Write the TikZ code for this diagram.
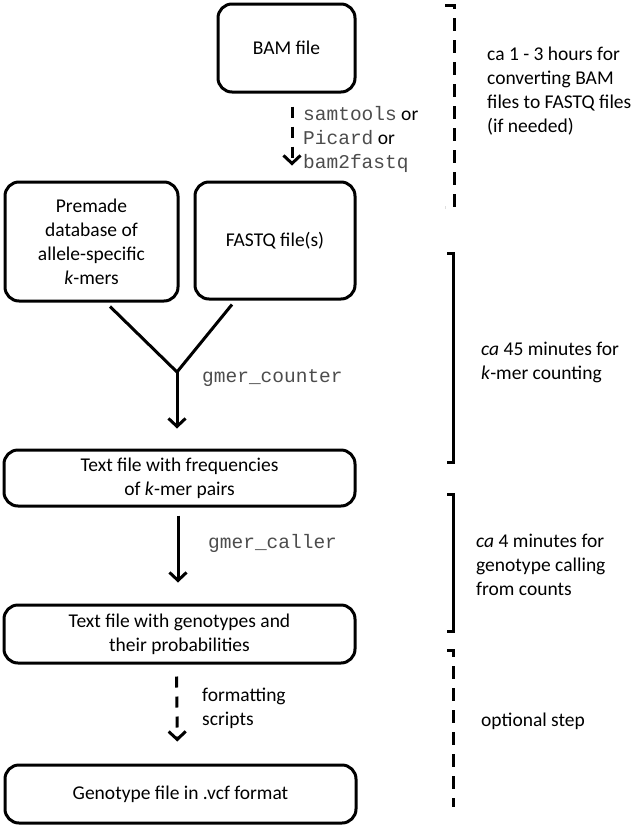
\documentclass[tikz,border=0pt]{standalone}
\usepackage{fontspec}
\setmainfont{Carlito}
\setmonofont{Liberation Mono}
\usetikzlibrary{arrows.meta}

\newcommand{\toolname}[1]{\textcolor{black!70}{\texttt{#1}}}

\begin{document}
\begin{tikzpicture}[x=1pt,y=-1pt]
        \tikzstyle{every node}=[inner sep=0pt, font=\fontsize{19.5pt}{24pt}\selectfont, text=black]
        \tikzstyle{box}=[draw=black, line width=3pt, rounded corners=14pt, align=center]
        \tikzstyle{note}=[anchor=west, align=left]
        \tikzstyle{edge}=[black, line width=3pt, -{Straight Barb[length=8pt,width=17pt]}]
        \tikzstyle{span}=[black, line width=3pt]
        \tikzstyle{broken}=[dash pattern=on 11pt off 9pt]

        \useasboundingbox (0,0) rectangle (640,828);

        \node[box, minimum width=137pt, minimum height=88pt]  (bam)   at (286.5,48)  {BAM file};
        \node[box, minimum width=173pt, minimum height=119pt] (db)    at (91.5,241.5) {Premade\\ database of\\ allele-specific\\ \textit{k}-mers};
        \node[box, minimum width=160pt, minimum height=117pt] (fastq) at (275,240.5) {FASTQ file(s)};
        \node[box, minimum width=351pt, minimum height=56pt]  (freq)  at (179.5,478) {Text file with frequencies\\ of \textit{k}-mer pairs};
        \node[box, minimum width=351pt, minimum height=58pt]  (geno)  at (179.5,634) {Text file with genotypes and\\ their probabilities};
        \node[box, minimum width=351pt, minimum height=58pt]  (vcf)   at (180.5,794) {Genotype file in .vcf format};

        \node[note] (tools) at (303,139) {\toolname{samtools} or\\ \toolname{Picard} or\\ \toolname{bam2fastq}};
        \node[note] (count) at (202,378) {\toolname{gmer\_counter}};
        \node[note] (call)  at (208,543) {\toolname{gmer\_caller}};
        \node[note] (fmt)   at (202,708) {formatting\\ scripts};

        \node[note] (time1) at (487,91)  {ca 1 - 3 hours for\\ converting BAM\\ files to FASTQ files\\ (if needed)};
        \node[note] (time2) at (481,362) {\textit{ca} 45 minutes for\\ \textit{k}-mer counting};
        \node[note] (time3) at (476,565) {\textit{ca} 4 minutes for\\ genotype calling\\ from counts};
        \node[note] (time4) at (481,721) {optional step};

        \coordinate (merge) at (177,372);

        \draw[edge, broken, shorten <=13pt, shorten >=15pt] ([xshift=5.5pt]bam.south) -- ([xshift=17pt]fastq.north);
        \draw[span] ([xshift=18.5pt,yshift=-4pt]db.south) -- (merge) -- ([xshift=-43pt,yshift=-4pt]fastq.south);
        \draw[edge, shorten >=20pt] (merge) -- (merge |- freq.north);
        \draw[edge, shorten <=8pt, shorten >=21pt] ([xshift=-1.5pt]freq.south) -- ([xshift=-1.5pt]geno.north);
        \draw[edge, broken, shorten <=12pt, shorten >=22pt] ([xshift=-3pt]geno.south) -- ([xshift=-3pt]vcf.north);

        % time brackets
        \draw[span, dash pattern=on 13pt off 9pt] (445,5) -- (454,5) -- (454,207) -- (445,207);
        \draw[span] (447,253) -- (453,253) -- (453,462) -- (447,462);
        \draw[span] (447,494) -- (453,494) -- (453,631) -- (447,631);
        \draw[span, dash pattern=on 13pt off 9pt] (447,650) -- (453,650) -- (453,807);
    \end{tikzpicture}
\end{document}
